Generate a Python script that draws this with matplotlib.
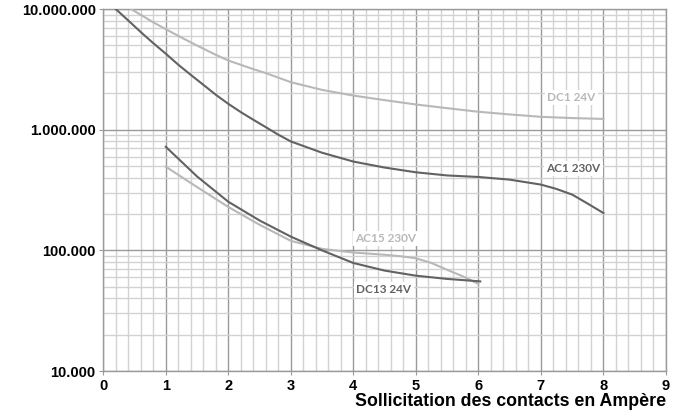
import matplotlib
matplotlib.use("Agg")
from matplotlib import pyplot as plt
from matplotlib.ticker import FixedLocator, FuncFormatter, LogLocator, MultipleLocator
import numpy as np

# values (x in A, y in operations)
dc1_x = [0.445, 0.6, 0.8, 1, 1.2, 1.4, 1.6, 1.8, 2, 2.4, 2.6, 3, 3.5, 4, 4.5, 5,
         5.5, 6, 6.5, 7, 7.5, 8]
dc1_y = [10.0e6, 8.97e6, 7.77e6, 6.82e6, 6.0e6, 5.3e6, 4.7e6, 4.18e6, 3.75e6,
         3.18e6, 2.95e6, 2.48e6, 2.14e6, 1.92e6, 1.76e6, 1.62e6, 1.51e6, 1.41e6,
         1.34e6, 1.28e6, 1.25e6, 1.23e6]

ac1_x = [0.2, 0.4, 0.6, 0.8, 1, 1.2, 1.4, 1.6, 1.8, 2, 2.2, 2.4, 2.6, 2.8, 3,
         3.5, 4, 4.5, 5, 5.5, 6, 6.5, 7, 7.25, 7.5, 7.75, 8]
ac1_y = [10.0e6, 8.05e6, 6.45e6, 5.22e6, 4.27e6, 3.46e6, 2.85e6, 2.36e6, 1.95e6,
         1.64e6, 1.40e6, 1.21e6, 1.05e6, 0.91e6, 0.80e6, 645e3, 545e3, 486e3,
         444e3, 418e3, 406e3, 386e3, 351e3, 323e3, 290e3, 244e3, 204e3]

dc13_x = [1, 1.5, 2, 2.5, 3, 3.5, 4, 4.5, 5, 5.5, 6, 6.03]
dc13_y = [722e3, 410e3, 253e3, 177e3, 130e3, 100e3, 78.6e3, 68e3, 61.7e3, 58e3,
          55.5e3, 55.3e3]

ac15_x = [1, 1.5, 2, 2.5, 3, 3.5, 4, 4.5, 4.75, 5, 5.25, 5.5, 5.75, 6]
ac15_y = [494e3, 335e3, 229e3, 163e3, 120e3, 103e3, 96e3, 92e3, 89.5e3, 86e3,
          78.6e3, 69e3, 61e3, 52.7e3]

dark = "#626262"
light = "#b8b8b8"

fig = plt.figure(figsize=(6.84, 4.15), dpi=100)
ax = fig.add_axes([0.1510, 0.106, 0.8226, 0.872])

ax.plot(dc1_x, dc1_y, color=light, lw=1.5, zorder=3)
ax.plot(ac1_x, ac1_y, color=dark, lw=1.5, zorder=3)
ax.plot(ac15_x, ac15_y, color=light, lw=1.5, zorder=3)
ax.plot(dc13_x, dc13_y, color=dark, lw=1.5, zorder=3)

ax.set_yscale("log")
ax.set_xlim(0, 9)
ax.set_ylim(1e4, 1e7)

ax.xaxis.set_major_locator(MultipleLocator(1))
ax.xaxis.set_minor_locator(MultipleLocator(0.2))
ax.yaxis.set_major_locator(FixedLocator([1e4, 1e5, 1e6, 1e7]))
ax.yaxis.set_minor_locator(LogLocator(base=10, subs=np.arange(2, 10)))
ax.yaxis.set_major_formatter(FuncFormatter(lambda v, p: f"{int(round(v)):,}".replace(",", ".")))
ax.yaxis.set_minor_formatter(FuncFormatter(lambda v, p: ""))

ax.grid(True, which="major", color="#9a9a9a", lw=1.0, zorder=1)
ax.grid(True, which="minor", color="#d2d2d2", lw=1.0, zorder=0)
ax.set_axisbelow(True)
for s in ax.spines.values():
    s.set_color("#9a9a9a")
    s.set_linewidth(1.0)

ax.tick_params(which="major", length=3, color="#9a9a9a", pad=2.5)
ax.tick_params(which="minor", length=0)
for lab in ax.get_xticklabels() + ax.get_yticklabels():
    lab.set_fontfamily("Liberation Sans")
    lab.set_fontweight("bold")
    lab.set_fontsize(10.5)

ax.set_xlabel("Sollicitation des contacts en Ampère", loc="right", labelpad=0,
              fontfamily="Liberation Sans", fontweight="bold", fontsize=12.8)

box = dict(facecolor="white", edgecolor="none", pad=1.5)
lbl = dict(fontfamily="Lato", fontweight="bold", fontsize=8.5, ha="center",
           va="center", bbox=box, zorder=4)
ax.text(7.49, 1.84e6, "DC1 24V", color=light, **lbl)
ax.text(7.52, 4.75e5, "AC1 230V", color=dark, **lbl)
ax.text(4.52, 1.25e5, "AC15 230V", color=light, **lbl)
ax.text(4.49, 4.75e4, "DC13 24V", color=dark, **lbl)

fig.savefig("out.png", dpi=100)
